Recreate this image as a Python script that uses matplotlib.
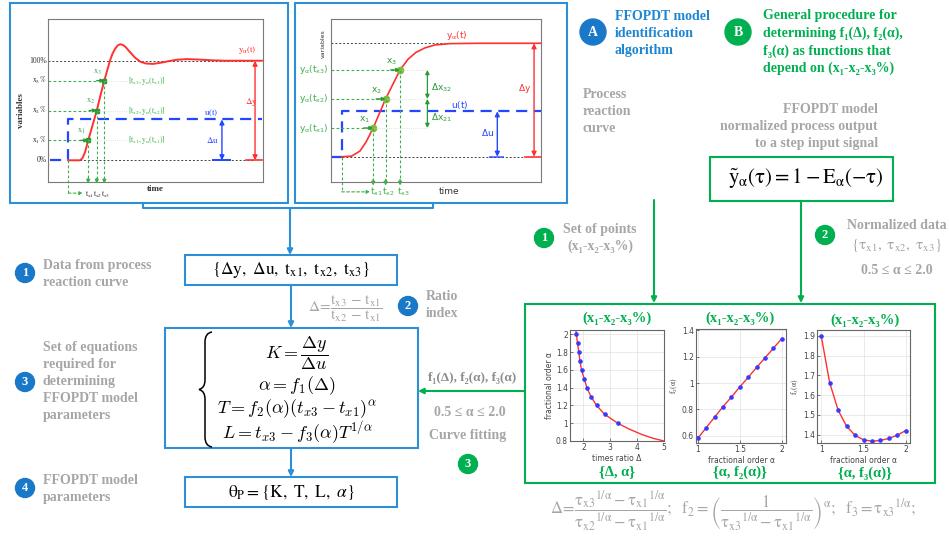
import matplotlib.pyplot as plt
from matplotlib.patches import Rectangle, Circle, PathPatch
from matplotlib.path import Path

plt.rcParams['mathtext.fontset'] = 'stix'
SERIF = ['Liberation Serif', 'DejaVu Serif']

W, H = 949, 538

# process reaction curve, underdamped response (left panel)
curve_a_t = [0.94, 1.49, 1.6, 1.72, 1.87, 2.07, 2.27, 2.45, 2.62, 2.75, 2.88, 3.0, 3.12,
             3.25, 3.35, 3.47, 3.6, 3.8, 4.05, 4.3, 4.55, 4.88, 5.2, 5.6, 6.0, 6.47,
             7.0, 7.53, 8.2, 9.95]
curve_a_y = [0, 0, 0.02, 0.08, 0.2, 0.35, 0.5, 0.66, 0.8, 0.9, 1.0, 1.07, 1.12,
             1.155, 1.165, 1.16, 1.14, 1.09, 1.03, 0.99, 0.972, 0.968, 0.978, 0.995, 1.01, 1.016,
             1.012, 1.005, 1.0, 1.0]
step_a_t = 0.94
step_a_u = 0.41
levels_a = [0.2, 0.5, 0.8]
times_a = [1.87, 2.27, 2.62]

# process reaction curve, fractional response (middle panel)
curve_b_t = [0.51, 0.98, 1.38, 1.67, 2.01, 2.3, 2.6, 2.95, 3.29, 3.67, 4.05, 4.48, 4.95,
             5.67, 7.1, 10.0]
curve_b_y = [0, 0.005, 0.05, 0.13, 0.253, 0.38, 0.509, 0.64, 0.765, 0.86, 0.92, 0.96, 0.985,
             0.997, 1.0, 1.0]
step_b_t = 0.51
step_b_u = 0.40
levels_b = [0.253, 0.509, 0.765]
times_b = [2.01, 2.6, 3.29]

# curve fitting results
alpha_pts = [1.0, 1.1, 1.2, 1.3, 1.4, 1.5, 1.6, 1.7, 1.8, 1.9, 2.0]
delta_pts = [3.28, 2.79, 2.49, 2.28, 2.13, 2.03, 1.93, 1.87, 1.83, 1.78, 1.74]
f1_fit_delta = [1.72, 1.74, 1.78, 1.83, 1.87, 1.93, 2.03, 2.13, 2.28, 2.49, 2.79, 3.28,
                3.7, 4.2, 4.6, 5.0]
f1_fit_alpha = [2.05, 2.0, 1.9, 1.8, 1.7, 1.6, 1.5, 1.4, 1.3, 1.2, 1.1, 1.0,
                0.935, 0.87, 0.83, 0.8]
f2_pts = [0.58, 0.66, 0.74, 0.82, 0.893, 0.97, 1.043, 1.118, 1.191, 1.264, 1.337]
f3_pts = [1.90, 1.663, 1.524, 1.443, 1.397, 1.374, 1.367, 1.371, 1.381, 1.398, 1.421]

BLUE_BOX = '#2e8ed6'
BLUE_TXT = '#1c86d2'
BLUE_DOT = '#1a78c8'
GREEN = '#00b050'
GRAY = '#a6a6a6'
RED = '#ff3030'
UBLUE = '#2346ff'
LGREEN = '#3fae4a'

fig = plt.figure(figsize=(W / 100, H / 100), dpi=100)
bg = fig.add_axes([0, 0, 1, 1])
bg.set_xlim(0, W)
bg.set_ylim(H, 0)
bg.axis('off')


def px_axes(x0, y0, x1, y1):
    return fig.add_axes([x0 / W, 1 - y1 / H, (x1 - x0) / W, (y1 - y0) / H])


def arrow(ax, p0, p1, color, lw=1.0, style='-|>', ms=8, ls='-'):
    ax.annotate('', xy=p1, xytext=p0, annotation_clip=False,
                arrowprops=dict(arrowstyle=style, color=color, lw=lw, ls=ls,
                                mutation_scale=ms, shrinkA=0, shrinkB=0))


def box(x0, y0, x1, y1, color):
    bg.add_patch(Rectangle((x0, y0), x1 - x0, y1 - y0, fill=False, ec=color, lw=1.5))


def badge(x, y, label, color, r=9.5, size=9):
    bg.add_patch(Circle((x, y), r, color=color))
    bg.text(x, y, label, color='white', fontsize=size, fontweight='bold', family=SERIF,
            ha='center', va='center')


def rows(x, y0, dy, lines, **kw):
    for i, s in enumerate(lines):
        bg.text(x, y0 + i * dy, s, va='center', family=SERIF, fontweight='bold', **kw)


def frame(ax):
    ax.set_xticks([])
    ax.set_yticks([])
    for s in ax.spines.values():
        s.set_color('#7a7a7a')
        s.set_linewidth(0.8)


# ---- panel frames and connectors
box(10, 3, 288, 203, BLUE_BOX)
box(295, 3, 567, 203, BLUE_BOX)
bg.plot([143, 143, 433, 433], [203, 208, 208, 203], color=BLUE_BOX, lw=1.5)
arrow(bg, (290, 208), (290, 255), BLUE_BOX, lw=1.5)

# ---- left panel: underdamped reaction curve
ax = px_axes(48, 19, 263, 182)
ax.set_xlim(0, 10)
ax.set_ylim(-0.218, 1.419)
frame(ax)
dk = dict(color='#444444', lw=0.7, dashes=(2, 2))
ax.plot([0, 9.55], [1, 1], **dk)
ax.plot([step_a_t, 9.55], [0, 0], **dk)
ax.plot([0.1, step_a_t, step_a_t, 9.95], [0, 0, step_a_u, step_a_u],
        color=UBLUE, lw=1.6, dashes=(5, 3))
ax.plot(curve_a_t, curve_a_y, color=RED, lw=1.4)
ax.plot([9.2, 9.95], [0, 0], color=RED, lw=1.2)
ax.plot([7.67, 8.47], [0, 0], color=UBLUE, lw=1.4)
arrow(ax, (8.09, 0), (8.09, step_a_u), UBLUE, style='<|-|>', ms=7)
arrow(ax, (9.63, 0), (9.63, 1), RED, style='<|-|>', ms=7)
gd = dict(color=LGREEN, lw=0.8, dashes=(2.5, 2))
for i, (lv, tx) in enumerate(zip(levels_a, times_a)):
    ax.plot([0, tx - 0.3], [lv, lv], **gd)
    arrow(ax, (tx - 0.35, lv), (tx, lv), '#2a9a35', lw=1, ms=5)
    ax.plot([tx], [lv], 's', color='#2a9a35', ms=2.5)
    ax.plot([tx, 3.7], [lv, lv], color='#d8d8d8', lw=0.6, ls=':')
    ax.plot([tx, tx], [lv, -0.2], clip_on=False, **gd)
    arrow(ax, (tx, -0.18), (tx, -0.235), LGREEN, ms=5)
    ax.text(3.74, lv, r'$[\mathrm{t_{x%d}, y_{\alpha}(t_{x%d})}]$' % (i + 1, i + 1), color=LGREEN,
            fontsize=5.5, va='center')
    ax.text(tx - 0.3, lv + 0.087, r'$\mathrm{x_%d}$' % (i + 1), color=LGREEN, fontsize=6,
            ha='center', va='center')
    ax.text(-0.05, lv, r'$\mathrm{x_%d\,\%%}$' % (i + 1), color='#333333', fontsize=5.5,
            ha='right', va='center', clip_on=False)
    ax.text(tx + 0.05, -0.34, r'$\mathrm{t_{x%d}}$' % (i + 1), color='#333333', fontsize=5.5,
            ha='center', va='center', clip_on=False)
ax.text(-0.05, 1, '100%', color='#333333', fontsize=5.5, family=SERIF, ha='right',
        va='center', clip_on=False)
ax.text(-0.05, 0, '0%', color='#333333', fontsize=5.5, family=SERIF, ha='right',
        va='center', clip_on=False)
ax.plot([step_a_t, step_a_t], [0, -0.33], clip_on=False, **gd)
arrow(ax, (step_a_t, -0.33), (1.62, -0.33), LGREEN, lw=0.8, ms=5, ls=(0, (2.5, 2)))
ax.text(9.28, 1.107, r'$\mathrm{y_{\alpha}(t)}$', color=RED, fontsize=6.5, ha='center', va='center')
ax.text(7.58, 0.475, r'$\mathrm{u(t)}$', color=UBLUE, fontsize=6.5, ha='center', va='center')
ax.text(7.67, 0.2, r'$\mathrm{\Delta u}$', color=UBLUE, fontsize=6.5, ha='center', va='center')
ax.text(9.44, 0.59, r'$\mathrm{\Delta y}$', color=RED, fontsize=6.5, ha='center', va='center')
ax.text(4.98, -0.29, 'time', fontsize=6.5, family=SERIF, fontweight='bold', color='#333333',
        ha='center', va='center', clip_on=False)
ax.text(-1.26, 0.5, 'variables', fontsize=6.5, family=SERIF, fontweight='bold', color='#333333',
        rotation=90, ha='center', va='center', clip_on=False)

# ---- middle panel: fractional reaction curve
ax = px_axes(331, 19, 541, 182)
ax.set_xlim(0, 10)
ax.set_ylim(-0.223, 1.214)
frame(ax)
ax.plot([0, 9.16], [1, 1], **dk)
ax.plot([step_b_t, 9.16], [0, 0], **dk)
ax.plot([0, step_b_t, step_b_t, 10], [0, 0, step_b_u, step_b_u],
        color=UBLUE, lw=1.6, dashes=(5, 3))
ax.plot(curve_b_t, curve_b_y, color=RED, lw=1.2)
ax.plot([9.24, 10], [0, 0], color=RED, lw=1.2)
ax.plot([7.57, 8.2], [0, 0], color=UBLUE, lw=1.4, alpha=0.7)
arrow(ax, (7.92, 0), (7.92, step_b_u), UBLUE, style='<|-|>', ms=7)
arrow(ax, (9.67, 0), (9.67, 1), RED, style='<|-|>', ms=7)
arrow(ax, (4.59, levels_b[0]), (4.59, levels_b[1]), '#2a9a35', style='<|-|>', ms=6, lw=0.9)
arrow(ax, (4.59, levels_b[1]), (4.59, levels_b[2]), '#2a9a35', style='<|-|>', ms=6, lw=0.9)
for i, (lv, tx) in enumerate(zip(levels_b, times_b)):
    ax.plot([0, tx - 0.3], [lv, lv], **gd)
    arrow(ax, (tx - 0.45, lv), (tx, lv), '#2a9a35', lw=1, ms=5)
    ax.plot([tx], [lv], 'o', color='#7cbc3c', ms=4.5)
    ax.plot([tx, 4.55], [lv, lv], color='#d8d8d8', lw=0.6, ls=':')
    ax.plot([tx, tx], [lv, -0.22], clip_on=False, **gd)
    arrow(ax, (tx, -0.2), (tx, -0.255), LGREEN, ms=5)
    ax.text(tx - 0.43, lv + 0.075, r'$\mathrm{x_%d}$' % (i + 1), color='#2a9a35', fontsize=6.5,
            ha='center', va='center', math_fontfamily='dejavusans')
    ax.text(-0.1, lv, r'$\mathrm{y_{\alpha}(t_{x%d})}$' % (i + 1), color=LGREEN, fontsize=6.5,
            ha='right', va='center', clip_on=False, math_fontfamily='dejavusans')
    ax.text(tx + 0.15, -0.31, r'$\mathrm{t_{x%d}}$' % (i + 1), color=LGREEN, fontsize=6.5,
            ha='center', va='center', clip_on=False, math_fontfamily='dejavusans')
ax.plot([step_b_t, step_b_t], [0, -0.31], clip_on=False, **gd)
arrow(ax, (step_b_t, -0.31), (1.86, -0.31), LGREEN, lw=0.8, ms=5, ls=(0, (2.5, 2)))
mt = dict(ha='center', va='center', fontsize=6.5, math_fontfamily='dejavusans')
ax.text(6.0, 1.07, r'$\mathrm{y_{\alpha}(t)}$', color=RED, **mt)
ax.text(6.14, 0.455, r'$\mathrm{u(t)}$', color=UBLUE, **mt)
ax.text(7.43, 0.21, r'$\mathrm{\Delta u}$', color=UBLUE, **mt)
ax.text(9.24, 0.605, r'$\mathrm{\Delta y}$', color=RED, **mt)
ax.text(5.25, 0.605, r'$\mathrm{\Delta x_{32}}$', color='#2a9a35', **mt)
ax.text(5.25, 0.34, r'$\mathrm{\Delta x_{21}}$', color='#2a9a35', **mt)
ax.text(5.62, -0.31, 'time', fontsize=6.5, color='#333333', ha='center', va='center',
        clip_on=False)
ax.text(-0.38, 1.0, 'variables', fontsize=4.5, color='#333333', rotation=90, ha='center',
        va='center', clip_on=False)

# ---- algorithm A (left column)
box(185, 255, 397, 285, BLUE_BOX)
bg.text(291, 270, r'$\{\mathrm{\Delta y,\ \Delta u,\ t_{x1},\ t_{x2},\ t_{x3}}\}$', fontsize=12.5,
        ha='center', va='center')
arrow(bg, (291, 285), (291, 328), BLUE_BOX, lw=1.5)
bg.text(345, 309, r'$\mathrm{\Delta\!=\!\dfrac{t_{x3}\,-\,t_{x1}}{t_{x2}\,-\,t_{x1}}}$', fontsize=11,
        color=GRAY, ha='center', va='center')
box(165, 328, 418, 448, BLUE_BOX)
brace = Path([(212, 332), (205, 333), (205, 342), (205, 380), (205, 388), (199, 389.5),
              (205, 391), (205, 399), (205, 437), (205, 446), (212, 447)],
             [Path.MOVETO, Path.CURVE3, Path.CURVE3, Path.LINETO, Path.CURVE3, Path.CURVE3,
              Path.CURVE3, Path.CURVE3, Path.LINETO, Path.CURVE3, Path.CURVE3])
bg.add_patch(PathPatch(brace, fill=False, lw=1.1, ec='black'))
eq = dict(fontsize=13, ha='center', va='center', math_fontfamily='cm')
bg.text(297, 353, r'$K = \dfrac{\Delta y}{\Delta u}$', **eq)
bg.text(297, 386, r'$\alpha = f_1(\Delta)$', **eq)
bg.text(297, 409, r'$T = f_2(\alpha)(t_{x3} - t_{x1})^{\alpha}$', **eq)
bg.text(297, 433, r'$L = t_{x3} - f_3(\alpha)T^{1/\alpha}$', **eq)
arrow(bg, (291, 448), (291, 477), BLUE_BOX, lw=1.5)
box(185, 477, 397, 507, BLUE_BOX)
bg.text(291, 492, r'$\mathrm{\theta_P = \{K,\ T,\ L,\ }\alpha\}$', fontsize=12.5,
        ha='center', va='center')

badge(25, 273, '1', BLUE_DOT)
badge(25, 382, '3', BLUE_DOT)
badge(25, 488, '4', BLUE_DOT)
badge(408, 306, '2', BLUE_DOT)
rows(43, 266, 17, ['Data from process', 'reaction curve'], color=GRAY, fontsize=10)
rows(43, 347, 17.1, ['Set of equations', 'required for', 'determining', 'FFOPDT model',
                     'parameters'], color=GRAY, fontsize=10)
rows(43, 480, 17, ['FFOPDT model', 'parameters'], color=GRAY, fontsize=10)
rows(426, 297, 16.7, ['Ratio', 'index'], color=GRAY, fontsize=10)

# ---- header badges
badge(593, 32, 'A', BLUE_DOT, r=13, size=10)
badge(738, 32, 'B', GREEN, r=13, size=10)
rows(615, 16, 17.3, ['FFOPDT model', 'identification', 'algorithm'], color=BLUE_TXT,
     fontsize=10)
rows(763, 16, 17.4, ['General procedure for', 'determining f₁(Δ), f₂(α),',
                     'f₃(α) as functions that', 'depend on (x₁-x₂-x₃%)'], color=GREEN,
     fontsize=10)
rows(583, 95, 16.7, ['Process', 'reaction', 'curve'], color=GRAY, fontsize=10)
rows(878, 109.3, 17.3, ['FFOPDT model', 'normalized process output', 'to a step input signal'],
     color=GRAY, fontsize=10, ha='right')

# ---- procedure B (right column)
box(710, 157, 893, 201, GREEN)
bg.text(806, 179, r'$\mathrm{\tilde{y}_{\alpha}(\tau) = 1 - E_{\alpha}(-\tau)}$', fontsize=15,
        ha='center', va='center')
arrow(bg, (654, 200), (654, 303), GREEN, lw=1.5)
arrow(bg, (801, 201), (801, 303), GREEN, lw=1.5)
badge(544, 238, '1', GREEN)
badge(825, 235, '2', GREEN)
rows(600, 229.3, 17.4, ['Set of points', '(x₁-x₂-x₃%)'], color=GRAY, fontsize=10, ha='center')
rows(897, 225.7, 19, ['Normalized data'], color=GRAY, fontsize=10, ha='center')
bg.text(897, 245, r'$\{\mathrm{\tau_{x1},\ \tau_{x2},\ \tau_{x3}}\}$', color=GRAY, fontsize=11,
        ha='center', va='center')
rows(897, 270, 19, ['0.5 ≤ α ≤ 2.0'], color=GRAY, fontsize=10, ha='center')

box(525, 304, 935, 483, GREEN)
arrow(bg, (525, 391), (418, 391), GREEN, lw=1.5)
rows(472, 378, 17, ['f₁(Δ), f₂(α), f₃(α)'], color='#8c8c8c', fontsize=9.5, ha='center')
rows(470, 412.7, 17, ['0.5 ≤ α ≤ 2.0'], color=GRAY, fontsize=10, ha='center')
rows(468, 435, 17, ['Curve fitting'], color=GRAY, fontsize=10, ha='center')
badge(468, 464, '3', GREEN)


def small_plot(rect, xlim, ylim, xticks, yticks, xlabel, ylabel):
    a = px_axes(*rect)
    a.set_xlim(*xlim)
    a.set_ylim(*ylim)
    a.set_xticks(xticks)
    a.set_yticks(yticks)
    a.set_xticklabels(['%g' % v for v in xticks])
    a.set_yticklabels(['%g' % v for v in yticks])
    a.grid(True, color='#e2e2e2', lw=0.5)
    a.tick_params(labelsize=5.5, length=2, width=0.5, pad=1.5, direction='in',
                  colors='#444444')
    for s in a.spines.values():
        s.set_color('#666666')
        s.set_linewidth(0.8)
    a.set_xlabel(xlabel, fontsize=5.5, labelpad=1.5, color='#444444')
    a.set_ylabel(ylabel, fontsize=5.5, labelpad=1.5, color='#444444')
    return a


a1 = small_plot((570, 330, 664, 441), (1.5, 5), (0.8, 2.05), [2, 3, 4, 5],
                [0.8, 1, 1.2, 1.4, 1.6, 1.8, 2], 'times ratio Δ', 'fractional order α')
a1.plot(f1_fit_delta, f1_fit_alpha, color=RED, lw=1)
a1.plot(delta_pts, alpha_pts, 'o', color='#3a3aff', ms=2.3)

a2 = small_plot((696, 329, 786, 443), (0.98, 2.05), (0.545, 1.41), [1, 1.5, 2],
                [0.6, 0.8, 1, 1.2, 1.4], 'fractional order α', r'$\mathrm{f_2(\alpha)}$')
a2.plot(alpha_pts, f2_pts, color=RED, lw=1)
a2.plot(alpha_pts, f2_pts, 'o', color='#3a3aff', ms=2.3)

a3 = small_plot((817, 330, 910, 443), (0.95, 2.05), (1.358, 1.93), [1, 1.5, 2],
                [1.4, 1.5, 1.6, 1.7, 1.8, 1.9], 'fractional order α', r'$\mathrm{f_3(\alpha)}$')
a3.plot(alpha_pts, f3_pts, color=RED, lw=1)
a3.plot(alpha_pts, f3_pts, 'o', color='#3a3aff', ms=2.3)

for xc, yt, yb, lab, fx, fy, fl in [
        (617, 318, 472, '{Δ, α}', 613, 378, 'f₁(Δ)'),
        (740, 318, 472, '{α, f₂(α)}', 723, 372, 'f₂(α)'),
        (865, 320, 473, '{α, f₃(α)}', 862, 384, 'f₃(α)')]:
    rows(xc, yt, 0, ['(x₁-x₂-x₃%)'], color=GREEN, fontsize=10.5, ha='center')
    rows(xc, yb, 0, [lab], color=GREEN, fontsize=10.5, ha='center')
    rows(fx, fy, 0, [fl], color=GREEN, fontsize=11, ha='center')

bg.text(733, 511,
        r'$\mathrm{\Delta\!=\!\dfrac{\tau_{x3}{}^{1/\alpha} - \tau_{x1}{}^{1/\alpha}}'
        r'{\tau_{x2}{}^{1/\alpha} - \tau_{x1}{}^{1/\alpha}};\ \ f_2 = '
        r'\left(\dfrac{1}{\tau_{x3}{}^{1/\alpha} - \tau_{x1}{}^{1/\alpha}}\right)^{\alpha}'
        r';\ \ f_3 = \tau_{x3}{}^{1/\alpha};}$',
        fontsize=12, color=GRAY, ha='center', va='center')

fig.savefig('out.png', dpi=100)
